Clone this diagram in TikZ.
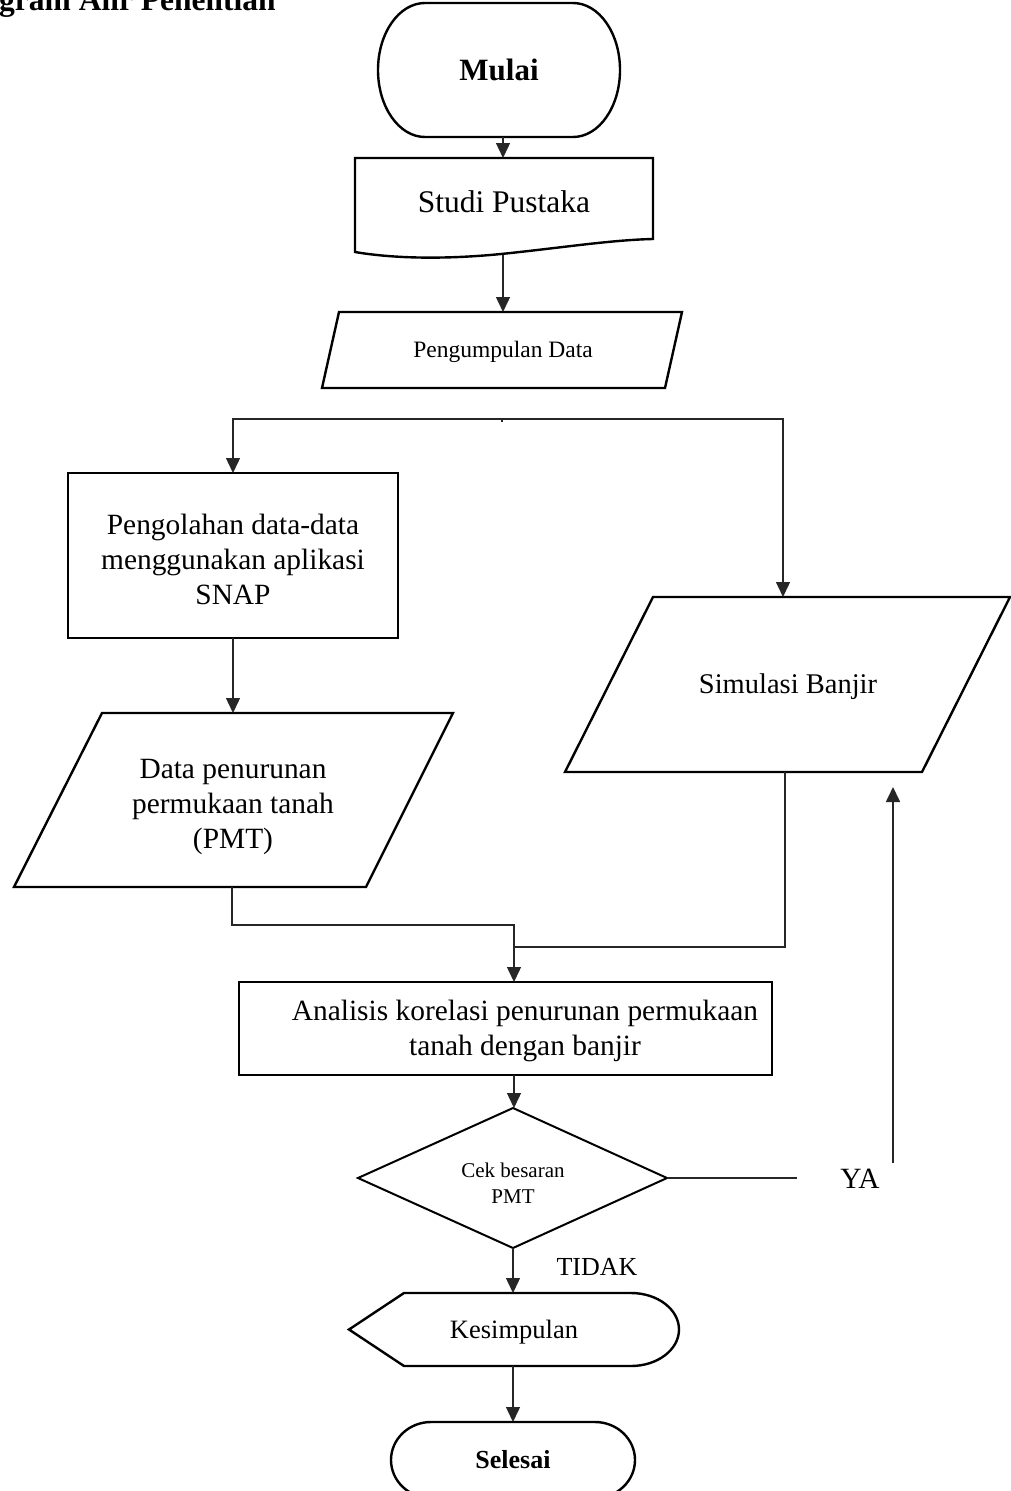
\documentclass[tikz,border=0pt]{standalone}
\usepackage{fontspec}
\setmainfont{Liberation Serif}
\usetikzlibrary{arrows.meta}
\begin{document}
\begin{tikzpicture}[x=1pt,y=1pt,
  shp/.style={draw=black, line width=2.4pt, line join=miter},
  box/.style={draw=black, line width=2.4pt, inner sep=0pt, outer sep=0pt},
  txt/.style={inner sep=0pt, align=center, font=\fontsize{29.4}{35}\selectfont},
  link/.style={draw=black!85, line width=1.4pt},
  arr/.style={link, -{Triangle[length=15pt, width=14pt]}}]
\useasboundingbox (0,0) rectangle (1011,-1491);
\clip (0,0) rectangle (1011,-1491);

% heading
\node[anchor=base west, inner sep=0pt, font=\bfseries\fontsize{31.5}{36}\selectfont] (title) at (-1,-10) {gram Alir Penelitian};

% start terminator
\draw[shp] (425,-3) -- (573,-3) arc[start angle=90, end angle=-90, x radius=47, y radius=67]
  -- (425,-137) arc[start angle=270, end angle=90, x radius=47, y radius=67] -- cycle;
\node[inner sep=0pt, font=\bfseries\fontsize{31}{36}\selectfont] (mulai) at (499,-70) {Mulai};
\coordinate (mulai-s) at (503,-137);

% literature study (document shape)
\draw[shp] (355,-158) -- (653,-158) -- (653,-239)
  .. controls (610,-240) and (560,-248) .. (501,-254)
  .. controls (440,-260) and (390,-258) .. (355,-252) -- cycle;
\node[txt, font=\fontsize{31.5}{36}\selectfont] (studi) at (504,-202) {Studi Pustaka};
\coordinate (studi-n) at (503,-158);
\coordinate (studi-s) at (503,-255);

% data collection
\draw[shp] (339,-312) -- (682,-312) -- (665,-388) -- (322,-388) -- cycle;
\node[txt, font=\fontsize{23.5}{28}\selectfont] (pd) at (503,-352) {Pengumpulan Data};
\coordinate (pd-n) at (503,-312);

% branch line
\coordinate (split) at (502,-419);
\draw[link] (split) -- ++(0,-3);

% SNAP processing
\node[box, minimum width=330pt, minimum height=165pt] (olah) at (233,-555.5) {};
\node[txt] (olahtxt) at (233,-559) {Pengolahan data-data\\menggunakan aplikasi\\SNAP};

% subsidence data
\draw[shp] (102,-713) -- (453,-713) -- (366,-887) -- (14,-887) -- cycle;
\node[txt] (datatxt) at (233,-807) {Data penurunan\\permukaan tanah\\(PMT)};
\coordinate (data-n) at (233,-713);
\coordinate (data-s) at (232,-887);

% flood simulation
\draw[shp] (653,-597) -- (1010,-597) -- (922,-772) -- (565,-772) -- cycle;
\node[txt, font=\fontsize{28.5}{34}\selectfont] (sim) at (788,-687) {Simulasi Banjir};
\coordinate (sim-n) at (783,-597);
\coordinate (sim-s) at (785,-772);
\coordinate (sim-ret) at (893,-787);

% correlation analysis
\node[box, minimum width=533pt, minimum height=93pt] (anal) at (505.5,-1028.5) {};
\node[txt] (analtxt) at (525,-1031) {Analisis korelasi penurunan permukaan\\tanah dengan banjir};
\coordinate (merge) at (514,-925);
\coordinate (join) at (514,-947);
\coordinate (anal-n) at (514,-982);
\coordinate (anal-s) at (514,-1075);

% decision
\draw[shp, line width=2pt] (513,-1108) -- (667,-1178) -- (513,-1248) -- (358,-1178) -- cycle;
\node[inner sep=0pt, align=center, font=\fontsize{21}{26}\selectfont] (cek) at (513,-1183) {Cek besaran\\PMT};
\coordinate (cek-n) at (514,-1108);
\coordinate (cek-e) at (667,-1178);
\coordinate (cek-s) at (513,-1248);
\coordinate (ya-end) at (797,-1178);
\coordinate (ya-up) at (893,-1163);
\node[txt] (ya) at (860,-1179) {YA};
\node[txt, font=\fontsize{26}{31}\selectfont] (tidak) at (597,-1267) {TIDAK};

% conclusion (display shape)
\draw[shp] (404,-1293) -- (631,-1293) arc[start angle=90, end angle=-90, x radius=48, y radius=36.5]
  -- (404,-1366) -- (349,-1329.5) -- cycle;
\node[txt, font=\fontsize{26.5}{32}\selectfont] (kes) at (514,-1332) {Kesimpulan};
\coordinate (kes-n) at (513,-1293);
\coordinate (kes-s) at (513,-1366);

% end terminator
\draw[shp] (431,-1422) -- (595,-1422) arc[start angle=90, end angle=-90, x radius=40, y radius=38]
  -- (431,-1498) arc[start angle=270, end angle=90, x radius=40, y radius=38] -- cycle;
\node[inner sep=0pt, font=\bfseries\fontsize{26}{31}\selectfont] (selesai) at (513,-1460) {Selesai};
\coordinate (sel-n) at (513,-1422);

% connectors
\draw[arr] (mulai-s) -- (studi-n);
\draw[arr] (studi-s) -- (pd-n);
\draw[arr] (split) -| (olah.north);
\draw[arr] (split) -| (sim-n);
\draw[arr] (olah.south) -- (data-n);
\draw[arr] (data-s) |- (merge) -- (anal-n);
\draw[link] (sim-s) |- (join);
\draw[arr] (anal-s) -- (cek-n);
\draw[link] (cek-e) -- (ya-end);
\draw[arr, line width=1.7pt] (ya-up) -- (sim-ret);
\draw[arr] (cek-s) -- (kes-n);
\draw[arr] (kes-s) -- (sel-n);
\end{tikzpicture}
\end{document}
